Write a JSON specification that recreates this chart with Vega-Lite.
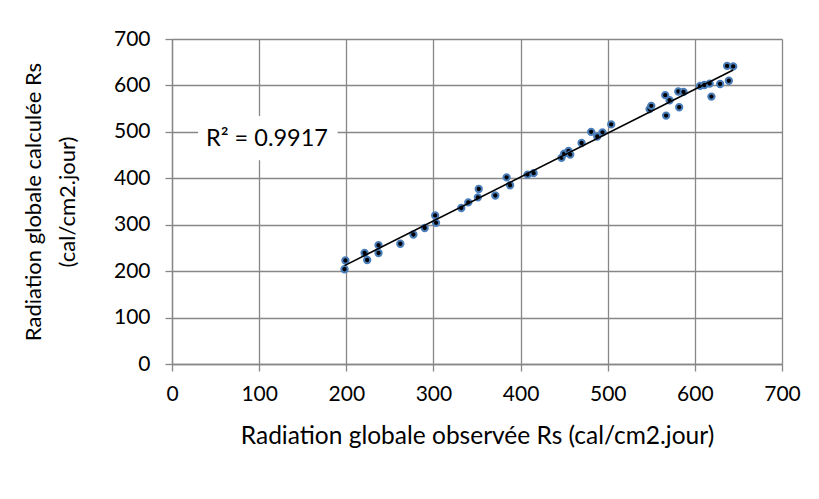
{
  "$schema": "https://vega.github.io/schema/vega-lite/v6.json",
  "autosize": {"type": "none"},
  "width": 610,
  "height": 325,
  "padding": {"left": 172, "top": 39, "right": 37, "bottom": 135},
  "background": "white",
  "config": {
    "font": "Lato",
    "view": {"stroke": null},
    "axis": {
      "labelFont": "Lato",
      "labelFontSize": 21,
      "labelColor": "#000000",
      "titleFont": "Lato",
      "titleFontSize": 22,
      "titleFontWeight": "normal",
      "titleColor": "#000000",
      "gridColor": "#878787",
      "gridWidth": 1.3,
      "gridOpacity": 1,
      "domainColor": "#878787",
      "domainWidth": 1.3,
      "tickColor": "#878787",
      "tickWidth": 1.3,
      "tickSize": 7
    }
  },
  "data": {
    "values": [
      {"obs": 198, "calc": 204},
      {"obs": 199, "calc": 223},
      {"obs": 221, "calc": 239},
      {"obs": 224, "calc": 224},
      {"obs": 237, "calc": 256},
      {"obs": 237, "calc": 239},
      {"obs": 262, "calc": 259},
      {"obs": 277, "calc": 279},
      {"obs": 290, "calc": 293},
      {"obs": 302, "calc": 320},
      {"obs": 303, "calc": 304},
      {"obs": 332, "calc": 336},
      {"obs": 340, "calc": 348},
      {"obs": 351, "calc": 359},
      {"obs": 352, "calc": 377},
      {"obs": 371, "calc": 363},
      {"obs": 384, "calc": 402},
      {"obs": 388, "calc": 385},
      {"obs": 408, "calc": 408},
      {"obs": 415, "calc": 411},
      {"obs": 447, "calc": 444},
      {"obs": 450, "calc": 453},
      {"obs": 455, "calc": 459},
      {"obs": 457, "calc": 451},
      {"obs": 470, "calc": 476},
      {"obs": 481, "calc": 500},
      {"obs": 488, "calc": 490},
      {"obs": 494, "calc": 499},
      {"obs": 504, "calc": 516},
      {"obs": 548, "calc": 549},
      {"obs": 550, "calc": 556},
      {"obs": 566, "calc": 579},
      {"obs": 567, "calc": 535},
      {"obs": 571, "calc": 568},
      {"obs": 581, "calc": 587},
      {"obs": 582, "calc": 553},
      {"obs": 587, "calc": 586},
      {"obs": 606, "calc": 599},
      {"obs": 611, "calc": 601},
      {"obs": 617, "calc": 604},
      {"obs": 619, "calc": 576},
      {"obs": 629, "calc": 603},
      {"obs": 637, "calc": 642},
      {"obs": 639, "calc": 610},
      {"obs": 644, "calc": 641}
    ]
  },
  "layer": [
    {
      "mark": {"type": "point", "shape": "circle", "filled": true, "fill": "#000000", "stroke": "#4a7ebb", "strokeWidth": 2, "size": 40, "opacity": 1},
      "encoding": {
        "x": {
          "field": "obs", "type": "quantitative",
          "scale": {"domain": [0, 700], "nice": false},
          "axis": {"values": [0, 100, 200, 300, 400, 500, 600, 700], "title": "Radiation globale observée Rs (cal/cm2.jour)", "titleFontSize": 24.5, "labelPadding": 12, "titlePadding": 20, "labelFlush": false}
        },
        "y": {
          "field": "calc", "type": "quantitative",
          "scale": {"domain": [0, 700], "nice": false},
          "axis": {"values": [0, 100, 200, 300, 400, 500, 600, 700], "title": ["Radiation globale calculée Rs", "(cal/cm2.jour)"], "labelPadding": 15, "titlePadding": 34, "titleLineHeight": 34, "labelFlush": false}
        }
      }
    },
    {
      "transform": [{"regression": "calc", "on": "obs", "method": "linear"}],
      "mark": {"type": "line", "color": "#000000", "strokeWidth": 1.6},
      "encoding": {
        "x": {"field": "obs", "type": "quantitative"},
        "y": {"field": "calc", "type": "quantitative"}
      }
    },
    {
      "data": {"values": [{"label": "R² = 0.9917"}]},
      "mark": {"type": "rect", "fill": "white"},
      "encoding": {
        "x": {"datum": 30, "type": "quantitative"},
        "x2": {"datum": 190},
        "y": {"datum": 439, "type": "quantitative"},
        "y2": {"datum": 534}
      }
    },
    {
      "data": {"values": [{"label": "R² = 0.9917"}]},
      "mark": {"type": "text", "font": "Lato", "fontSize": 23.5, "color": "#000000", "align": "center", "baseline": "middle"},
      "encoding": {
        "x": {"datum": 109, "type": "quantitative"},
        "y": {"datum": 485, "type": "quantitative"},
        "text": {"field": "label"}
      }
    }
  ]
}
